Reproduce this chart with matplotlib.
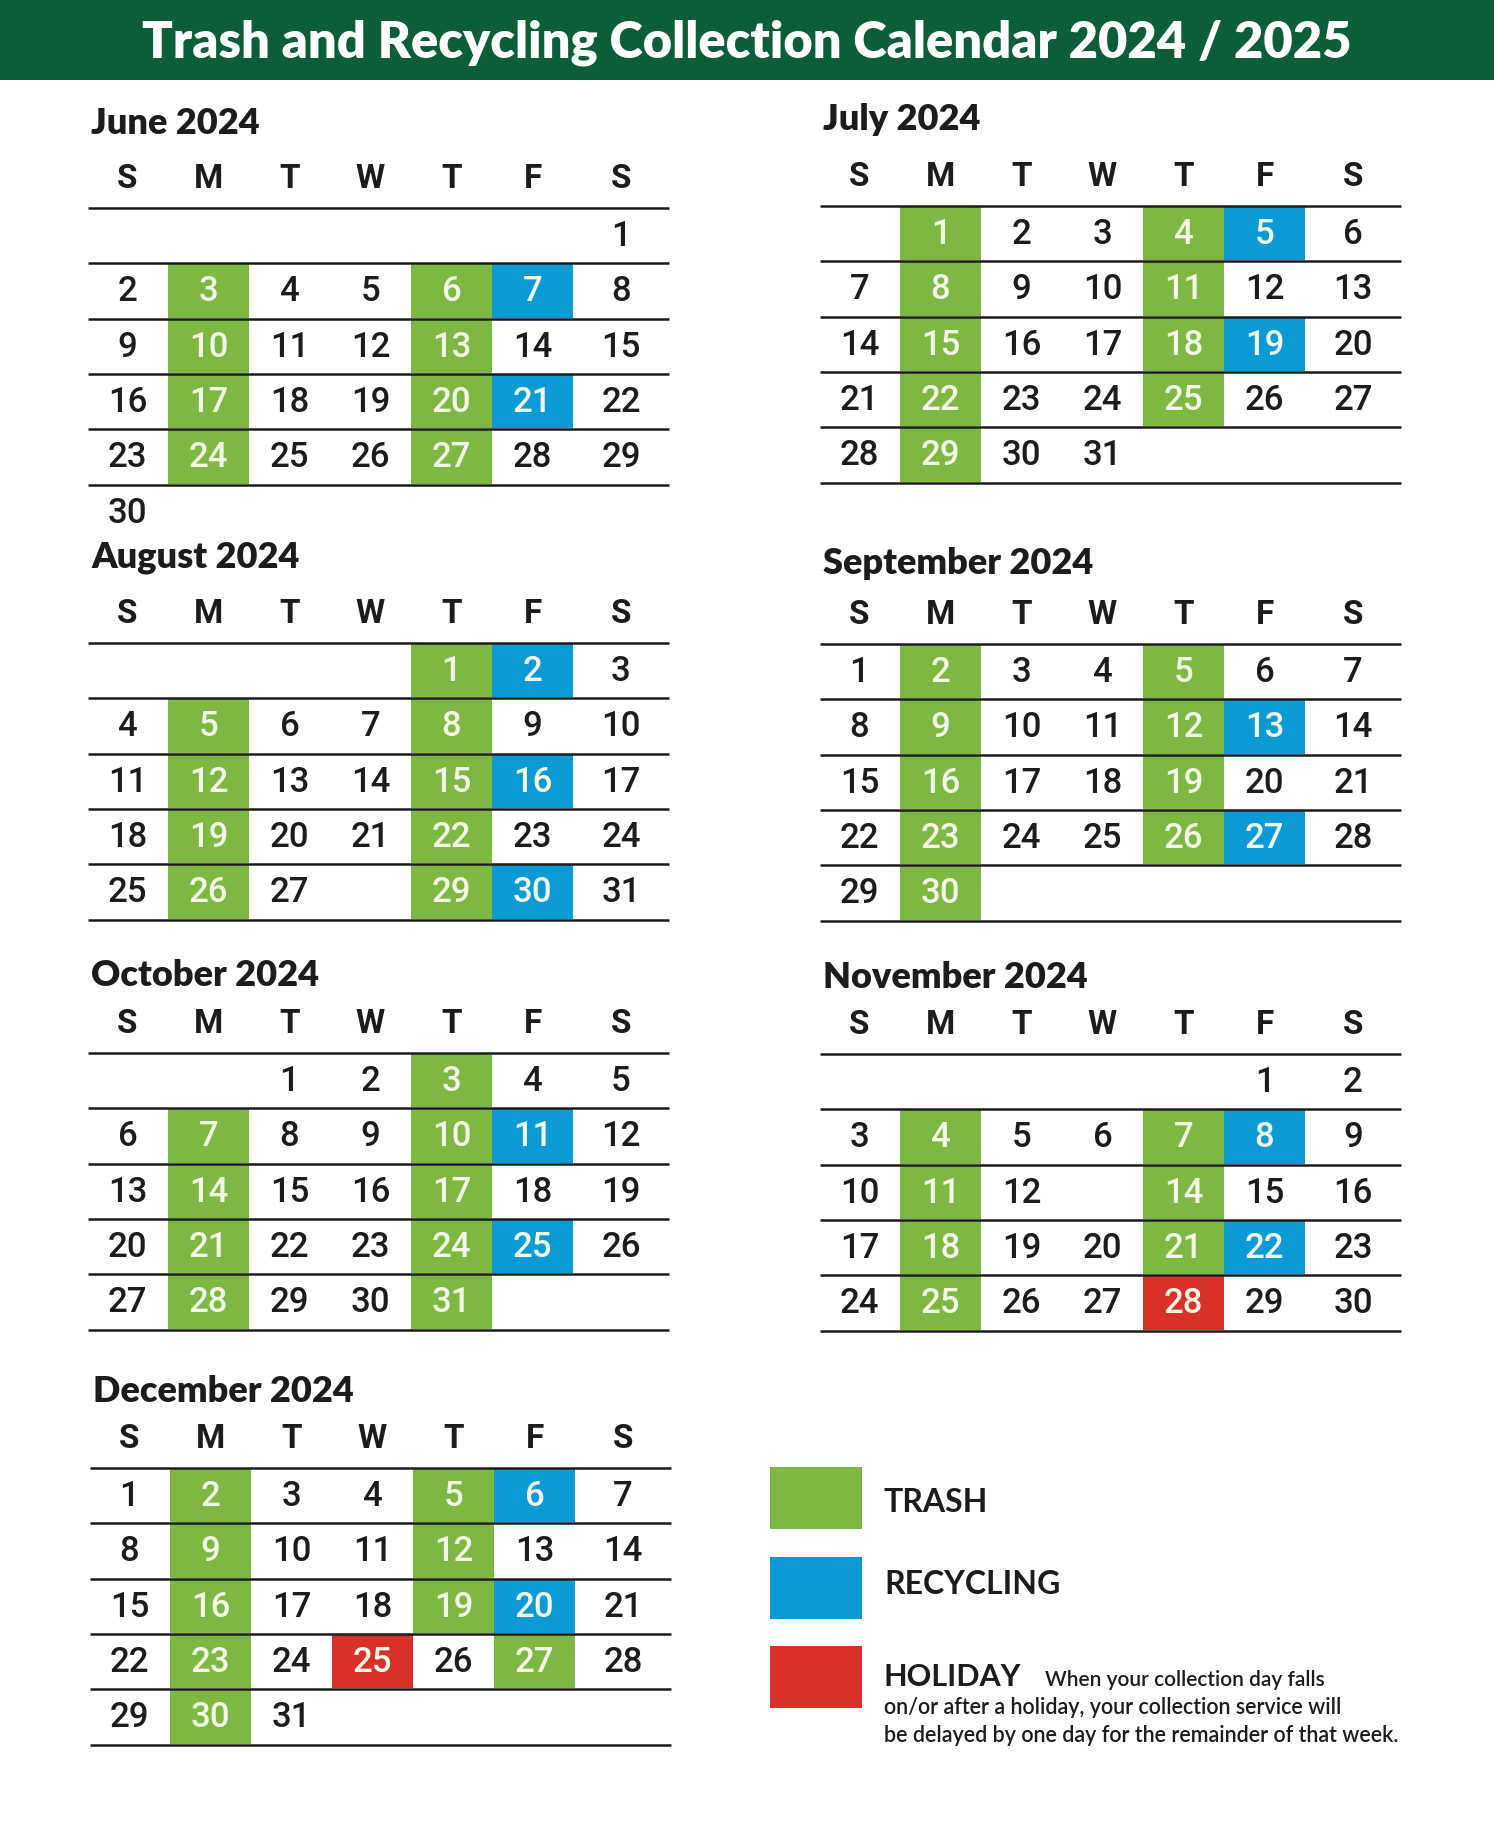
import calendar
import matplotlib.pyplot as plt
from matplotlib.patches import Rectangle

# Data
month_names = ["June 2024", "July 2024", "August 2024", "September 2024",
               "October 2024", "November 2024", "December 2024"]
month_nums = [(2024, 6), (2024, 7), (2024, 8), (2024, 9),
              (2024, 10), (2024, 11), (2024, 12)]
weekday_labels = ["S", "M", "T", "W", "T", "F", "S"]

trash_days = [
    [3, 6, 10, 13, 17, 20, 24, 27],
    [1, 4, 8, 11, 15, 18, 22, 25, 29],
    [1, 5, 8, 12, 15, 19, 22, 26, 29],
    [2, 5, 9, 12, 16, 19, 23, 26, 30],
    [3, 7, 10, 14, 17, 21, 24, 28, 31],
    [4, 7, 11, 14, 18, 21, 25],
    [2, 5, 9, 12, 16, 19, 23, 27, 30],
]
recycling_days = [[7, 21], [5, 19], [2, 16, 30], [13, 27], [11, 25], [8, 22], [6, 20]]
holiday_days = [[], [], [], [], [], [28], [25]]
blank_days = [[], [], [28], [], [], [13], []]  # numbers left out of the printed grid

legend_labels = ["TRASH", "RECYCLING", "HOLIDAY"]
holiday_note = ["When your collection day falls",
                "on/or after a holiday, your collection service will",
                "be delayed by one day for the remainder of that week."]

# Style
GREEN = "#7db843"
BLUE = "#0a9bd7"
RED = "#d7312a"
HEADER = "#0b5e38"
INK = "#1c1c1c"
LIGHT = "#f3f8e6"
W, H = 1494, 1843

# Layout (pixels)
block_left = [87, 819, 87, 819, 87, 819, 89]
block_top = [208, 206, 643, 644, 1053, 1054, 1468]
title_y = [123, 120, 558, 563, 976, 977, 1391]
col_w = 81
row_h = 55.3
line_len = 582

fig = plt.figure(figsize=(W / 100, H / 100), dpi=100)
fig.patch.set_facecolor("white")
ax = fig.add_axes([0, 0, 1, 1])
ax.set_xlim(0, W)
ax.set_ylim(H, 0)
ax.axis("off")

# header band
ax.add_patch(Rectangle((0, 0), W, 80, color=HEADER, lw=0))
ax.text(W / 2, 43, "Trash and Recycling Collection Calendar 2024 / 2025",
        ha="center", va="center", color="white", fontsize=36.5,
        fontweight="heavy", family="Lato")

fills = {"trash": GREEN, "recycling": BLUE, "holiday": RED}

for i, name in enumerate(month_names):
    x0, top = block_left[i], block_top[i]
    year, mon = month_nums[i]
    weeks = calendar.Calendar(firstweekday=6).monthdayscalendar(year, mon)

    ax.text(x0 + 4, title_y[i], name, ha="left", va="center", color=INK,
            fontsize=26, fontweight="heavy", family="Lato")

    def col_center(c):
        if c == 6:
            return (x0 + 6 * col_w + x0 + line_len) / 2
        return x0 + c * col_w + col_w / 2

    for c, lab in enumerate(weekday_labels):
        ax.text(col_center(c), top - 29, lab, ha="center", va="center",
                color=INK, fontsize=24, fontweight="bold", family="Roboto")

    ax.plot([x0 + 1, x0 + line_len], [top, top], color=INK, lw=1.8,
            solid_capstyle="butt")

    for r, week in enumerate(weeks):
        y_top = top + r * row_h
        for c, day in enumerate(week):
            if day == 0 or day in blank_days[i]:
                continue
            kind = None
            if day in holiday_days[i]:
                kind = "holiday"
            elif day in recycling_days[i]:
                kind = "recycling"
            elif day in trash_days[i]:
                kind = "trash"
            if kind:
                ax.add_patch(Rectangle((x0 + c * col_w, y_top + 1), col_w, row_h - 2,
                                       color=fills[kind], lw=0, zorder=1))
            ax.text(col_center(c), y_top + row_h / 2 + 1, str(day), ha="center",
                    va="center", color=LIGHT if kind else INK, fontsize=25,
                    fontweight="medium", family="Roboto", zorder=3)
        if r < 5:
            yl = y_top + row_h
            ax.plot([x0 + 1, x0 + line_len], [yl, yl], color=INK, lw=1.8,
                    solid_capstyle="butt", zorder=2)

# legend
sq_y = [1467, 1557, 1646]
txt_y = [1502, 1585, 1677]
for k, lab in enumerate(legend_labels):
    ax.add_patch(Rectangle((770, sq_y[k]), 92, 62,
                           color=[GREEN, BLUE, RED][k], lw=0))
    ax.text(884, txt_y[k], lab, ha="left", va="center", color=INK,
            fontsize=23 if k < 2 else 22, fontweight="bold", family="Lato")

ax.text(1045, 1680, holiday_note[0], ha="left", va="center", color=INK,
        fontsize=15, family="Lato", fontweight="semibold")
ax.text(884, 1708, holiday_note[1], ha="left", va="center", color=INK,
        fontsize=15.5, family="Lato", fontweight="semibold")
ax.text(884, 1736, holiday_note[2], ha="left", va="center", color=INK,
        fontsize=15.5, family="Lato", fontweight="semibold")

fig.savefig("out.png", dpi=100, facecolor="white")
